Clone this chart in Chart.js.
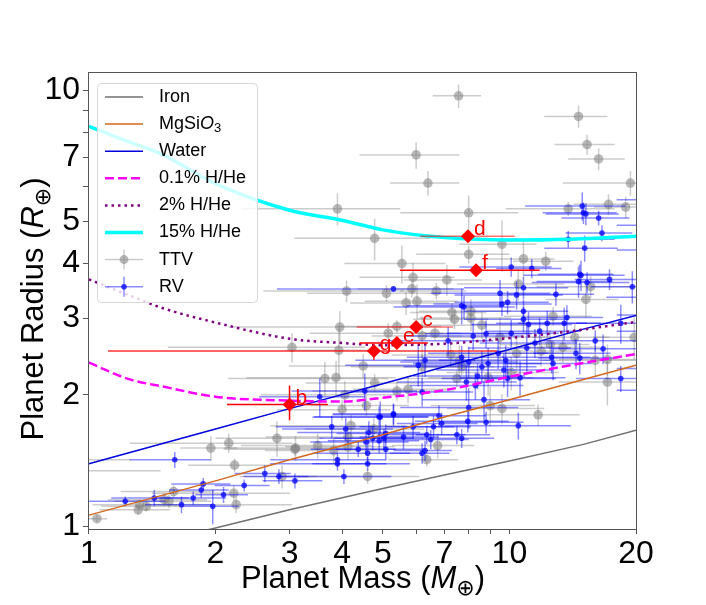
<!DOCTYPE html>
<html>
<head>
<meta charset="utf-8">
<script src="https://cdn.jsdelivr.net/npm/chart.js@4.4.0/dist/chart.umd.min.js"></script>
<style>
body { margin: 0; background: #fff; }
#wrap { width: 706px; height: 605px; position: relative; }
</style>
</head>
<body>
<div id="wrap"><canvas id="myChart"></canvas></div>
<script>
// axis ticks
const xTicks = [1, 2, 3, 4, 5, 6, 7, 8, 9, 10, 20];
const xTickLabels = ['1', '2', '3', '4', '5', '', '7', '', '', '10', '20'];
const yTicks = [1, 2, 3, 4, 5, 6, 7, 8, 9, 10];
const yTickLabels = ['1', '2', '3', '4', '5', '', '7', '', '', '10'];

// composition models
const modelMass = [1, 2, 3, 5, 7, 10, 15, 20];
const ironRadius = [0.85, 0.99, 1.09, 1.22, 1.31, 1.41, 1.54, 1.66];
const rockRadius = [1.06, 1.27, 1.42, 1.62, 1.78, 1.95, 2.17, 2.34];
const waterRadius = [1.39, 1.67, 1.86, 2.12, 2.32, 2.54, 2.83, 3.04];
const envMass = [1, 1.25, 1.5, 2, 3, 4, 5, 7, 10, 14, 20];
const hhe01Radius = [2.37, 2.17, 2.09, 1.98, 1.94, 1.93, 1.97, 2.05, 2.2, 2.34, 2.48];
const hhe2Radius = [3.68, 3.38, 3.16, 2.93, 2.69, 2.63, 2.6, 2.62, 2.7, 2.8, 2.94];
const hhe15Radius = [8.25, 7.6, 7.1, 6.1, 5.3, 5.03, 4.78, 4.59, 4.53, 4.55, 4.62];

// TTV planets
const ttvMass = [1.045, 1.31, 1.32, 1.37, 1.51, 1.55, 1.59, 1.95, 2.15, 2.22,
  2.21, 2.24, 2.80, 2.88, 3.09, 5.9, 7.1, 4.1, 5.1, 5.86,
  6.7, 5.68, 6.03, 7.3, 7.4, 3.95, 5.15, 5.4, 6.65, 6.2,
  3.93, 3.04, 4.49, 3.64, 3.87, 4.78, 5.4, 5.74, 4.06, 4.57,
  4.0, 6.2, 7.5, 7.7, 7.6, 7.25, 10.5, 15.6, 15.2, 8.1,
  8.1, 8.6, 12.7, 9.5, 14.3, 12.5, 13.4, 11.9, 10.4, 19.8,
  16.0, 17.1, 10.1, 8.9, 17.1, 9.0, 9.6, 11.7, 4.2, 4.13,
  4.13, 3.5, 3.82, 3.1, 6.75, 6.36, 4.6, 4.76, 6.0, 6.4,
  3.9, 4.78, 5.55, 7.57, 14.6, 15.3, 16.3, 19.4, 8.0, 17.2,
  18.9, 13.8, 9.6, 8.0, 10.8, 12.2, 0.7, 0.8];
const ttvRadius = [1.04, 1.09, 1.12, 1.11, 1.15, 1.14, 1.20, 1.51, 1.55, 1.38,
  1.19, 1.12, 1.59, 1.30, 1.50, 3.72, 3.67, 3.46, 3.42, 3.5,
  3.46, 3.25, 3.28, 3.09, 2.98, 2.86, 2.77, 2.87, 2.77, 2.73,
  2.53, 2.57, 2.33, 2.18, 2.19, 2.13, 2.04, 2.06, 2.0, 1.89,
  1.85, 2.32, 2.18, 2.32, 2.40, 2.47, 3.59, 3.54, 3.31, 3.11,
  3.0, 2.89, 3.03, 2.71, 2.71, 2.61, 2.57, 2.52, 2.49, 2.71,
  2.40, 2.41, 2.25, 2.19, 2.14, 1.89, 1.86, 1.80, 1.70, 1.60,
  1.52, 1.53, 1.49, 1.51, 1.53, 1.42, 1.30, 1.67, 7.1, 6.12,
  5.34, 4.57, 4.0, 9.7, 8.7, 7.5, 6.95, 6.12, 5.23, 5.47,
  5.39, 5.34, 4.43, 4.2, 4.1, 4.05, 1.42, 1.34];
const ttvMassErr = [0.06, 0.25, 0.3, 0.3, 0.4, 0.4, 0.4, 0.3, 0.9, 0.5,
  0.8, 0.8, 0.8, 0.6, 1.0, 1.5, 1.5, 1.5, 1.8, 1.5,
  1.2, 1.5, 1.5, 1.5, 1.5, 1.8, 1.8, 1.5, 1.0, 1.5,
  1.0, 1.5, 1.5, 1.5, 1.5, 1.5, 2.0, 1.5, 1.5, 1.2,
  1.2, 2.0, 2.0, 1.5, 2.0, 2.0, 3.0, 4.0, 3.0, 2.0,
  2.0, 2.5, 3.0, 3.0, 3.0, 3.0, 3.0, 3.0, 3.0, 4.0,
  4.0, 4.0, 3.0, 2.5, 4.0, 2.5, 2.5, 3.0, 1.5, 1.5,
  1.2, 1.2, 1.2, 1.0, 1.5, 1.2, 1.5, 1.5, 1.6, 1.2,
  1.6, 1.7, 1.5, 1.0, 2.5, 2.5, 2.5, 6.0, 2.5, 3.0,
  3.0, 4.0, 2.0, 2.0, 2.0, 2.0, 0.56, 0.68];
const ttvRadiusErr = [0.02, 0.03, 0.03, 0.03, 0.04, 0.04, 0.04, 0.1, 0.08, 0.05,
  0.05, 0.05, 0.15, 0.08, 0.05, 0.3, 0.3, 0.2, 0.15, 0.15,
  0.15, 0.2, 0.3, 0.15, 0.15, 0.25, 0.15, 0.1, 0.1, 0.3,
  0.35, 0.2, 0.15, 0.2, 0.2, 0.1, 0.1, 0.15, 0.15, 0.1,
  0.1, 0.15, 0.1, 0.1, 0.2, 0.15, 0.3, 0.2, 0.3, 0.2,
  0.2, 0.2, 0.15, 0.3, 0.2, 0.2, 0.2, 0.2, 0.25, 0.3,
  0.2, 0.2, 0.2, 0.2, 0.25, 0.2, 0.15, 0.1, 0.1, 0.1,
  0.1, 0.1, 0.1, 0.1, 0.1, 0.05, 0.05, 0.1, 0.5, 0.4,
  0.45, 0.5, 0.4, 0.6, 0.5, 0.4, 0.4, 0.4, 0.5, 0.3,
  0.3, 0.2, 0.6, 0.2, 0.4, 0.2, 0.05, 0.05];

// RV planets
const rvMass = [1.22, 1.43, 1.6, 1.66, 1.77, 1.85, 1.87, 1.97, 2.09, 2.34,
  2.62, 2.83, 3.09, 5.3, 7.7, 7.15, 6.3, 6.07, 7.7, 3.54,
  4.53, 6.2, 4.93, 5.3, 14.8, 14.6, 15.3, 17.3, 19.6, 9.5,
  10.4, 10.8, 12.9, 9.6, 9.9, 7.8, 10.8, 10.8, 11.1, 12.3,
  13.7, 13.5, 10.1, 8.8, 8.2, 11.8, 16.0, 16.7, 18.4, 11.0,
  11.5, 14.4, 14.7, 12.6, 12.7, 9.8, 9.7, 9.4, 8.9, 8.6,
  8.0, 8.4, 7.9, 8.3, 10.6, 9.9, 18.4, 8.0, 8.7, 4.9,
  5.3, 6.8, 3.78, 4.08, 4.63, 4.73, 4.9, 5.03, 5.08, 4.56,
  4.37, 4.6, 5.08, 5.6, 5.9, 6.36, 6.5, 6.6, 6.9, 7.5,
  7.7, 6.2, 6.3, 7.96, 8.8, 10.5, 3.9, 3.9, 4.6, 4.04,
  14.9, 15.0, 15.2, 16.3, 16.6, 13.8, 15.1, 10.1, 11.3, 14.7,
  24, 23, 26, 22, 25, 23, 28, 22];
const rvRadius = [1.14, 1.16, 1.42, 1.12, 1.16, 1.21, 1.25, 1.11, 1.18, 1.24,
  1.32, 1.30, 1.27, 3.5, 3.2, 2.66, 2.40, 2.34, 2.44, 1.98,
  2.04, 2.03, 1.78, 1.81, 3.76, 3.64, 3.62, 3.68, 3.54, 3.42,
  3.39, 3.52, 3.40, 3.23, 3.26, 3.18, 3.11, 2.98, 2.9, 2.92,
  3.01, 2.92, 2.77, 2.76, 2.73, 2.8, 2.66, 2.55, 2.92, 2.56,
  2.63, 2.49, 2.43, 2.44, 2.36, 2.40, 2.28, 2.49, 2.36, 2.32,
  2.38, 2.21, 2.14, 2.10, 2.19, 2.18, 2.18, 1.87, 1.95, 1.78,
  1.80, 1.79, 1.69, 1.67, 1.64, 1.59, 1.57, 1.59, 1.63, 1.56,
  1.50, 1.47, 1.50, 1.60, 1.69, 1.62, 1.58, 1.69, 1.72, 1.62,
  1.59, 1.47, 1.49, 1.74, 1.73, 1.70, 1.42, 1.39, 1.39, 1.30,
  5.42, 5.23, 5.2, 5.09, 4.7, 4.55, 4.34, 3.93, 3.9, 3.78,
  5.6, 4.9, 4.3, 3.35, 3.05, 2.8, 2.3, 2.05];
const rvMassErr = [0.3, 0.3, 0.35, 0.3, 0.35, 0.3, 0.3, 0.3, 0.3, 0.35,
  0.4, 0.5, 0.5, 2.5, 2.0, 2.0, 2.0, 2.0, 2.0, 1.0,
  1.5, 2.0, 1.5, 1.5, 4, 3, 4, 3, 4, 3,
  3, 3, 3, 3, 2.5, 2.5, 3, 3, 3, 3,
  3, 3, 3, 2.5, 2.5, 3, 4, 4, 4, 3,
  3, 3, 3, 3, 3, 3, 3, 3, 3, 3,
  2.5, 2.5, 2.5, 2.5, 3, 3, 4, 2.5, 2.5, 1.5,
  1.5, 2, 1.0, 1.2, 1.5, 1.2, 1.2, 1.2, 1.2, 1.2,
  1.0, 1.2, 1.2, 1.2, 1.5, 1.5, 1.5, 1.5, 1.5, 1.5,
  1.5, 1.0, 1.0, 2, 2, 3.5, 1.2, 1.2, 1.2, 1.2,
  4, 3, 3, 3, 3, 4, 3, 2.5, 2, 3,
  6, 5, 8, 5, 7, 5, 10, 4];
const rvRadiusErr = [0.03, 0.05, 0.06, 0.05, 0.04, 0.05, 0.04, 0.1, 0.05, 0.04,
  0.06, 0.05, 0.05, 0.05, 0.3, 0.2, 0.2, 0.25, 0.15, 0.2,
  0.2, 0.15, 0.15, 0.1, 0.3, 0.3, 0.2, 0.2, 0.3, 0.25,
  0.25, 0.2, 0.2, 0.2, 0.2, 0.2, 0.2, 0.2, 0.2, 0.2,
  0.2, 0.25, 0.2, 0.2, 0.2, 0.2, 0.15, 0.2, 0.3, 0.3,
  0.2, 0.2, 0.2, 0.2, 0.2, 0.2, 0.2, 0.2, 0.2, 0.2,
  0.2, 0.15, 0.2, 0.15, 0.2, 0.2, 0.15, 0.2, 0.2, 0.1,
  0.1, 0.1, 0.1, 0.1, 0.1, 0.1, 0.1, 0.08, 0.08, 0.1,
  0.06, 0.08, 0.08, 0.1, 0.1, 0.08, 0.08, 0.1, 0.1, 0.08,
  0.08, 0.08, 0.08, 0.1, 0.1, 0.12, 0.05, 0.05, 0.05, 0.05,
  0.4, 0.3, 0.3, 0.2, 0.2, 0.2, 0.3, 0.2, 0.2, 0.2,
  0.2, 0.3, 0.3, 0.2, 0.3, 0.2, 0.2, 0.2];

// this system (b-g)
const planetNames = ['b', 'c', 'd', 'e', 'f', 'g'];
const planetMass = [3.0, 6.0, 7.97, 5.4, 8.33, 4.76];
const planetRadius = [1.90, 2.86, 4.62, 2.63, 3.86, 2.52];
const planetMassLo = [2.13, 4.33, 6.13, 4.4, 5.49, 1.11];
const planetMassHi = [3.7, 7.34, 10.3, 6.4, 11.8, 9.33];
const planetRadiusLo = [1.75, 2.81, 4.56, 2.59, 3.81, 2.40];
const planetRadiusHi = [2.10, 2.91, 4.68, 2.67, 3.91, 2.57];
const planetErrColor = ['#ff0000', 'rgba(255,0,0,0.55)', 'rgba(255,0,0,0.55)', '#ff0000', '#ff0000', 'rgba(255,0,0,0.8)'];

const FONT = '"Liberation Sans", Arial, "DejaVu Sans", sans-serif';
Chart.defaults.font.family = FONT;

function pts(xs, ys) {
    return xs.map((x, i) => ({ x: x, y: ys[i] }));
}

// text with italic / subscript parts
function rich(ctx, parts, x, y, size, align) {
    let w = 0;
    const fonts = parts.map(p => {
        const f = (p[1] === 'i' ? 'italic ' : '') + (p[1] === 's' ? Math.round(size * 0.7) : size) + 'px ' + FONT;
        ctx.font = f;
        const pw = ctx.measureText(p[0]).width;
        w += pw;
        return { f: f, w: pw };
    });
    let cx = align === 'center' ? x - w / 2 : x;
    ctx.textAlign = 'left';
    parts.forEach((p, i) => {
        ctx.font = fonts[i].f;
        ctx.fillText(p[0], cx, y + (p[1] === 's' ? size * 0.22 : 0));
        cx += fonts[i].w;
    });
}

// error bars, drawn just under each dataset that has them
const errorBars = {
    id: 'errorBars',
    beforeDatasetDraw(chart, args) {
        const ds = chart.data.datasets[args.index];
        if (!ds.xLo) return;
        const ctx = chart.ctx, xs = chart.scales.x, ys = chart.scales.y, a = chart.chartArea;
        ctx.save();
        ctx.beginPath();
        ctx.rect(a.left, a.top, a.right - a.left, a.bottom - a.top);
        ctx.clip();
        ctx.lineWidth = ds.errWidth;
        ds.data.forEach((p, i) => {
            const px = xs.getPixelForValue(p.x), py = ys.getPixelForValue(p.y);
            ctx.strokeStyle = Array.isArray(ds.errColor) ? ds.errColor[i] : ds.errColor;
            ctx.beginPath();
            ctx.moveTo(xs.getPixelForValue(Math.max(ds.xLo[i], 0.05)), py);
            ctx.lineTo(xs.getPixelForValue(ds.xHi[i]), py);
            ctx.moveTo(px, ys.getPixelForValue(Math.max(ds.yLo[i], 0.05)));
            ctx.lineTo(px, ys.getPixelForValue(ds.yHi[i]));
            ctx.stroke();
        });
        ctx.restore();
    }
};

const decorations = {
    id: 'decorations',
    afterDraw(chart) {
        const ctx = chart.ctx, a = chart.chartArea, xs = chart.scales.x, ys = chart.scales.y;
        ctx.save();
        // frame
        ctx.strokeStyle = '#555';
        ctx.lineWidth = 1;
        ctx.strokeRect(a.left + 0.5, a.top + 0.5, a.right - a.left, a.bottom - a.top);

        // planet letters
        ctx.fillStyle = '#ff0000';
        ctx.font = '21px ' + FONT;
        ctx.textAlign = 'left';
        ctx.textBaseline = 'alphabetic';
        planetNames.forEach((n, i) => {
            ctx.fillText(n, xs.getPixelForValue(planetMass[i]) + 6, ys.getPixelForValue(planetRadius[i]) - 1);
        });

        // axis titles
        ctx.fillStyle = '#000';
        rich(ctx, [['Planet Mass (', 'n'], ['M', 'i'], ['\u2295', 's'], [')', 'n']], 363, 588, 31, 'center');
        ctx.save();
        ctx.translate(43, 309);
        ctx.rotate(-Math.PI / 2);
        rich(ctx, [['Planet Radius (', 'n'], ['R', 'i'], ['\u2295', 's'], [')', 'n']], 0, 0, 31, 'center');
        ctx.restore();

        // legend
        const lx = 97, ly = 83, lw = 160, lh = 219;
        ctx.beginPath();
        ctx.roundRect(lx + 0.5, ly + 0.5, lw, lh, 4);
        ctx.fillStyle = 'rgba(255,255,255,0.8)';
        ctx.fill();
        ctx.strokeStyle = '#d6d6d6';
        ctx.stroke();
        const rows = [
            { parts: [['Iron', 'n']], color: '#707070', w: 1.5, dash: [] },
            { parts: [['MgSi', 'n'], ['O', 'i'], ['3', 's']], color: '#d2691e', w: 1.5, dash: [] },
            { parts: [['Water', 'n']], color: '#0000dd', w: 1.5, dash: [] },
            { parts: [['0.1% H/He', 'n']], color: '#ff00ff', w: 2.5, dash: [9, 4] },
            { parts: [['2% H/He', 'n']], color: '#800080', w: 2.5, dash: [2.5, 4] },
            { parts: [['15% H/He', 'n']], color: '#00ffff', w: 3.5, dash: [] },
            { parts: [['TTV', 'n']], marker: 'ttv' },
            { parts: [['RV', 'n']], marker: 'rv' }
        ];
        rows.forEach((r, i) => {
            const y = 97 + i * 27.1;
            if (r.marker) {
                const isTtv = r.marker === 'ttv';
                ctx.setLineDash([]);
                ctx.lineWidth = 1.5;
                ctx.strokeStyle = isTtv ? 'rgba(128,128,128,0.4)' : 'rgba(0,0,255,0.45)';
                ctx.beginPath();
                ctx.moveTo(105, y); ctx.lineTo(143, y);
                ctx.moveTo(124, y - 10); ctx.lineTo(124, y + 10);
                ctx.stroke();
                ctx.fillStyle = isTtv ? 'rgba(128,128,128,0.55)' : 'rgba(0,0,255,0.75)';
                ctx.beginPath();
                ctx.arc(124, y, isTtv ? 4.5 : 2.8, 0, Math.PI * 2);
                ctx.fill();
            } else {
                ctx.strokeStyle = r.color;
                ctx.lineWidth = r.w;
                ctx.setLineDash(r.dash);
                ctx.beginPath();
                ctx.moveTo(105, y); ctx.lineTo(143, y);
                ctx.stroke();
            }
            ctx.setLineDash([]);
            ctx.fillStyle = '#000';
            ctx.textBaseline = 'middle';
            rich(ctx, r.parts, 159, y, 18, 'left');
        });
        ctx.restore();
    }
};

const ctx = document.getElementById('myChart').getContext('2d');
const myChart = new Chart(ctx, {
    type: 'scatter',
    data: {
        datasets: [{
            label: 'TTV',
            data: pts(ttvMass, ttvRadius),
            xLo: ttvMass.map((m, i) => m - ttvMassErr[i]),
            xHi: ttvMass.map((m, i) => m + ttvMassErr[i]),
            yLo: ttvRadius.map((r, i) => r - ttvRadiusErr[i]),
            yHi: ttvRadius.map((r, i) => r + ttvRadiusErr[i]),
            errColor: 'rgba(128,128,128,0.4)',
            errWidth: 1.5,
            backgroundColor: 'rgba(128,128,128,0.55)',
            borderWidth: 0,
            pointRadius: 4.8,
            order: 6
        }, {
            label: 'RV',
            data: pts(rvMass, rvRadius),
            xLo: rvMass.map((m, i) => m - rvMassErr[i]),
            xHi: rvMass.map((m, i) => m + rvMassErr[i]),
            yLo: rvRadius.map((r, i) => r - rvRadiusErr[i]),
            yHi: rvRadius.map((r, i) => r + rvRadiusErr[i]),
            errColor: 'rgba(0,0,255,0.45)',
            errWidth: 1.5,
            backgroundColor: 'rgba(0,0,255,0.75)',
            borderWidth: 0,
            pointRadius: 2.8,
            order: 5
        }, {
            label: 'Iron',
            data: pts(modelMass, ironRadius),
            showLine: true, pointRadius: 0, borderColor: '#707070', borderWidth: 1.5, order: 4
        }, {
            label: 'MgSiO3',
            data: pts(modelMass, rockRadius),
            showLine: true, pointRadius: 0, borderColor: '#d2691e', borderWidth: 1.5, order: 4
        }, {
            label: 'Water',
            data: pts(modelMass, waterRadius),
            showLine: true, pointRadius: 0, borderColor: '#0000dd', borderWidth: 1.5, order: 4
        }, {
            label: '0.1% H/He',
            data: pts(envMass, hhe01Radius),
            showLine: true, pointRadius: 0, borderColor: '#ff00ff', borderWidth: 2.5,
            borderDash: [9, 4], cubicInterpolationMode: 'monotone', order: 3
        }, {
            label: '2% H/He',
            data: pts(envMass, hhe2Radius),
            showLine: true, pointRadius: 0, borderColor: '#800080', borderWidth: 2.5,
            borderDash: [2.5, 4], cubicInterpolationMode: 'monotone', order: 3
        }, {
            label: '15% H/He',
            data: pts(envMass, hhe15Radius),
            showLine: true, pointRadius: 0, borderColor: '#00ffff', borderWidth: 3.5,
            cubicInterpolationMode: 'monotone', order: 3
        }, {
            label: 'planets',
            data: pts(planetMass, planetRadius),
            xLo: planetMassLo, xHi: planetMassHi,
            yLo: planetRadiusLo, yHi: planetRadiusHi,
            errColor: planetErrColor,
            errWidth: 1.5,
            pointStyle: 'rectRot',
            pointRadius: 7,
            backgroundColor: '#ff0000',
            borderWidth: 0,
            order: 1
        }]
    },
    options: {
        responsive: true,
        maintainAspectRatio: false,
        animation: false,
        layout: { padding: { left: 0, right: 70, top: 72, bottom: 0 } },
        plugins: { legend: { display: false }, tooltip: { enabled: false } },
        scales: {
            x: {
                type: 'logarithmic',
                min: 0.995,
                max: 20,
                afterBuildTicks: axis => { axis.ticks = xTicks.map(v => ({ value: v })); },
                afterFit: axis => { axis.height = 76; },
                ticks: {
                    autoSkip: false, maxRotation: 0, padding: 1,
                    color: '#000', font: { size: 32 },
                    callback: v => xTickLabels[xTicks.indexOf(v)]
                },
                grid: { drawOnChartArea: false, tickLength: 5, color: '#555' },
                border: { color: '#555' }
            },
            y: {
                type: 'logarithmic',
                min: 0.985,
                max: 11.0,
                afterBuildTicks: axis => { axis.ticks = yTicks.map(v => ({ value: v })); },
                afterFit: axis => { axis.width = 88; },
                ticks: {
                    autoSkip: false, padding: 3,
                    color: '#000', font: { size: 32 },
                    callback: v => yTickLabels[yTicks.indexOf(v)]
                },
                grid: { drawOnChartArea: false, tickLength: 5, color: '#555' },
                border: { color: '#555' }
            }
        }
    },
    plugins: [errorBars, decorations]
});
</script>
</body>
</html>
